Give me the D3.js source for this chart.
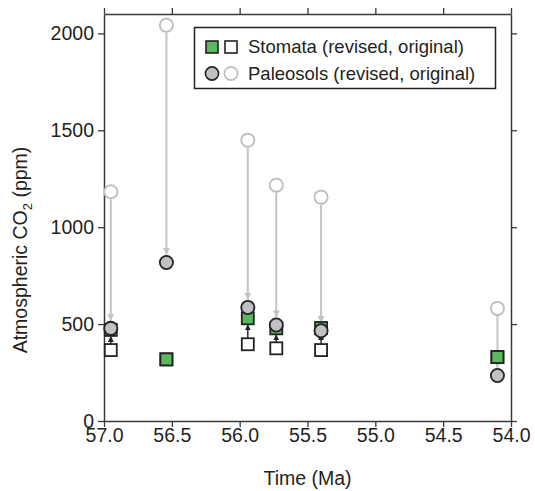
<!DOCTYPE html>
<html>
<head>
<meta charset="utf-8">
<script src="https://cdn.jsdelivr.net/npm/d3@7/dist/d3.min.js"></script>
<style>
  body { margin: 0; background: #fff; }
  svg { display: block; font-family: "Liberation Sans", Arial, Helvetica, sans-serif; }
</style>
</head>
<body>
<svg id="chart" width="535" height="491"></svg>
<script>
// Sample ages (Ma)
const ages = [56.95, 56.54, 55.94, 55.73, 55.40, 54.10];
// Stomata-based CO2 estimates (ppm)
const stomataRevised  = [470, 318, 530, 478, 480, 330];
const stomataOriginal = [366, 318, 396, 375, 366, 330];
// Paleosol-based CO2 estimates (ppm)
const paleosolRevised  = [478, 818, 586, 495, 466, 235];
const paleosolOriginal = [1183, 2042, 1449, 1217, 1155, 581];
// Axis ticks
const xTicks = [57.0, 56.5, 56.0, 55.5, 55.0, 54.5, 54.0];
const yTicks = [0, 500, 1000, 1500, 2000];
const legendLabels = ["Stomata (revised, original)", "Paleosols (revised, original)"];

const svg = d3.select("#chart");
const plotLeft = 104, plotRight = 511, plotTop = 14, plotBottom = 421;

const x = d3.scaleLinear().domain([57.0, 54.0]).range([plotLeft, plotRight]);
const y = d3.scaleLinear().domain([0, 2100]).range([plotBottom, plotTop]);

const axisColor = "#3a3a3a";
const green = "#5cb85f";
const grey = "#c0c1c5";
const lightLine = "#c4c4c4";
const dark = "#222";
const textColor = "#231f20";

// Axes
const gBottom = svg.append("g").attr("transform", `translate(0,${plotBottom})`)
  .call(d3.axisBottom(x).tickValues(xTicks).tickFormat(d3.format(".1f")).tickSize(6).tickSizeOuter(0));
const gTop = svg.append("g").attr("transform", `translate(0,${plotTop})`)
  .call(d3.axisTop(x).tickValues(xTicks).tickFormat("").tickSize(6).tickSizeOuter(0));
const gLeft = svg.append("g").attr("transform", `translate(${plotLeft},0)`)
  .call(d3.axisLeft(y).tickValues(yTicks).tickFormat(d3.format("d")).tickSize(6).tickSizeOuter(0));
const gRight = svg.append("g").attr("transform", `translate(${plotRight},0)`)
  .call(d3.axisRight(y).tickValues(yTicks).tickFormat("").tickSize(6).tickSizeOuter(0));

[gBottom, gTop, gLeft, gRight].forEach(g => {
  g.select(".domain").attr("stroke", axisColor).attr("stroke-width", 1.5);
  g.selectAll(".tick line").attr("stroke", axisColor).attr("stroke-width", 1.3);
  g.selectAll(".tick text").attr("fill", textColor).style("font-size", "19.5px")
    .style("font-family", "'Liberation Sans', Arial, sans-serif");
});
gBottom.selectAll(".tick text").attr("dy", null).attr("y", 21);
gLeft.selectAll(".tick text").attr("x", -10);

// Axis titles
svg.append("text")
  .attr("x", (plotLeft + plotRight) / 2).attr("y", 485)
  .attr("text-anchor", "middle").attr("fill", textColor).style("font-size", "19.5px")
  .text("Time (Ma)");

const yTitle = svg.append("text")
  .attr("transform", `translate(27,250) rotate(-90)`)
  .attr("text-anchor", "middle").attr("fill", textColor).style("font-size", "19.5px");
yTitle.append("tspan").text("Atmospheric CO");
yTitle.append("tspan").attr("dy", 5).style("font-size", "13px").text("2");
yTitle.append("tspan").attr("dy", -5).text(" (ppm)");

// Arrow markers
const defs = svg.append("defs");
function marker(id, color, size) {
  defs.append("marker").attr("id", id)
    .attr("viewBox", "0 0 10 10").attr("refX", 10).attr("refY", 5)
    .attr("markerUnits", "userSpaceOnUse")
    .attr("markerWidth", size).attr("markerHeight", size).attr("orient", "auto")
    .append("path").attr("d", "M0,0 L10,5 L0,10 Z").attr("fill", color);
}
marker("arrGrey", lightLine, 7);
marker("arrDark", dark, 6);

const r = 6.6, sq = 12;
const data = ages.map((a, i) => ({
  age: a,
  sRev: stomataRevised[i], sOrig: stomataOriginal[i],
  pRev: paleosolRevised[i], pOrig: paleosolOriginal[i]
}));

// Paleosol revision arrows
svg.append("g").selectAll("line").data(data).join("line")
  .attr("x1", d => x(d.age)).attr("x2", d => x(d.age))
  .attr("y1", d => y(d.pOrig) + r + 1)
  .attr("y2", d => y(d.pRev) - r - 1)
  .attr("stroke", lightLine).attr("stroke-width", 2)
  .attr("marker-end", "url(#arrGrey)");

// Original paleosol estimates (open grey circles)
svg.append("g").selectAll("circle").data(data).join("circle")
  .attr("cx", d => x(d.age)).attr("cy", d => y(d.pOrig)).attr("r", r)
  .attr("fill", "#fff").attr("stroke", "#bdbdbd").attr("stroke-width", 1.8);

// Original stomata estimates (open squares)
svg.append("g").selectAll("rect").data(data).join("rect")
  .attr("x", d => x(d.age) - sq / 2).attr("y", d => y(d.sOrig) - sq / 2)
  .attr("width", sq).attr("height", sq)
  .attr("fill", "#fff").attr("stroke", dark).attr("stroke-width", 1.8);

// Stomata revision arrows
svg.append("g").selectAll("line").data(data.filter(d => d.sRev - d.sOrig > 0)).join("line")
  .attr("x1", d => x(d.age)).attr("x2", d => x(d.age))
  .attr("y1", d => y(d.sOrig) - sq / 2)
  .attr("y2", d => y(d.sRev) + sq / 2)
  .attr("stroke", dark).attr("stroke-width", 1.4)
  .attr("marker-end", "url(#arrDark)");

// Revised stomata estimates (green squares)
svg.append("g").selectAll("rect").data(data).join("rect")
  .attr("x", d => x(d.age) - sq / 2).attr("y", d => y(d.sRev) - sq / 2)
  .attr("width", sq).attr("height", sq)
  .attr("fill", green).attr("stroke", dark).attr("stroke-width", 1.8);

// Revised paleosol estimates (grey circles)
svg.append("g").selectAll("circle").data(data).join("circle")
  .attr("cx", d => x(d.age)).attr("cy", d => y(d.pRev)).attr("r", r)
  .attr("fill", grey).attr("stroke", dark).attr("stroke-width", 1.8);

// Legend
const lg = svg.append("g");
lg.append("rect").attr("x", 194.5).attr("y", 27.5).attr("width", 301).attr("height", 61)
  .attr("fill", "#fff").attr("stroke", dark).attr("stroke-width", 1.5);
lg.append("rect").attr("x", 212 - sq / 2).attr("y", 47 - sq / 2).attr("width", sq).attr("height", sq)
  .attr("fill", green).attr("stroke", dark).attr("stroke-width", 1.6);
lg.append("rect").attr("x", 231 - sq / 2).attr("y", 47 - sq / 2).attr("width", sq).attr("height", sq)
  .attr("fill", "#fff").attr("stroke", dark).attr("stroke-width", 1.6);
lg.append("circle").attr("cx", 212).attr("cy", 73.5).attr("r", r)
  .attr("fill", grey).attr("stroke", dark).attr("stroke-width", 1.6);
lg.append("circle").attr("cx", 231).attr("cy", 73.5).attr("r", r)
  .attr("fill", "#fff").attr("stroke", "#bdbdbd").attr("stroke-width", 1.6);
lg.selectAll("text.lbl").data(legendLabels).join("text").attr("class", "lbl")
  .attr("x", 248).attr("y", (d, i) => 52.5 + i * 27.5)
  .attr("fill", textColor).style("font-size", "18.5px").text(d => d);
</script>
</body>
</html>
